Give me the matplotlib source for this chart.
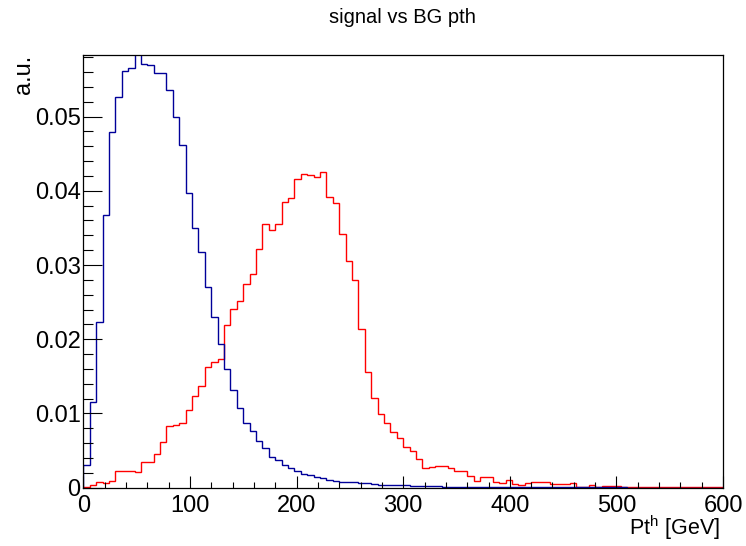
import numpy as np
import matplotlib
matplotlib.use("Agg")
import matplotlib.pyplot as plt
from matplotlib.ticker import MultipleLocator, FuncFormatter

plt.rcParams['font.family'] = ['Liberation Sans', 'DejaVu Sans']
plt.rcParams['mathtext.fontset'] = 'custom'
plt.rcParams['mathtext.rm'] = 'Liberation Sans'

# 100 bins, 0..600 GeV
bin_edges = np.linspace(0, 600, 101)

# background (blue)
bg_vals = [
    0.0031, 0.0115, 0.0223, 0.0367, 0.0479, 0.0526, 0.0562, 0.0566, 0.0585, 0.0571,
    0.0569, 0.0559, 0.0559, 0.0536, 0.0500, 0.0462, 0.0397, 0.0350, 0.0318, 0.0271,
    0.0230, 0.0193, 0.0160, 0.0132, 0.0108, 0.0087, 0.0076, 0.0063, 0.0053, 0.0042,
    0.0037, 0.0031, 0.0026, 0.0022, 0.0019, 0.0017, 0.0015, 0.0013, 0.0011, 0.0009,
    0.0008, 0.0008, 0.0007, 0.0006, 0.0006, 0.0005, 0.0004, 0.0004, 0.0003, 0.0003,
    0.0003, 0.0002, 0.0002, 0.0002, 0.0002, 0.0002, 0.0001, 0.0001, 0.0001, 0.0001,
    0.0001, 0.0001, 0.0001, 0.0001, 0.0001, 0.0001, 0.00005, 0.00005, 0.00005, 0.00005,
    0.00005, 0.00005, 0.00005, 0.00005, 0.00005, 0.00004, 0.00004, 0.00004, 0.00004, 0.00004,
    0.00003, 0.00003, 0.00003, 0.00003, 0.00003, 0.00002, 0.00002, 0.00002, 0.00002, 0.00002,
    0.00002, 0.00002, 0.00002, 0.00001, 0.00001, 0.00001, 0.00001, 0.00001, 0.00001, 0.00001,
]

# signal (red)
sig_vals = [
    0.0001, 0.0003, 0.0008, 0.0006, 0.0009, 0.0022, 0.0023, 0.0022, 0.0021, 0.0035,
    0.0034, 0.0046, 0.0062, 0.0083, 0.0084, 0.0087, 0.0105, 0.0124, 0.0137, 0.0163,
    0.0170, 0.0173, 0.0219, 0.0241, 0.0251, 0.0274, 0.0288, 0.0322, 0.0355, 0.0347,
    0.0355, 0.0385, 0.0390, 0.0416, 0.0422, 0.0421, 0.0418, 0.0426, 0.0392, 0.0383,
    0.0342, 0.0305, 0.0280, 0.0214, 0.0156, 0.0121, 0.0099, 0.0087, 0.0075, 0.0067,
    0.0055, 0.0049, 0.0039, 0.0027, 0.0028, 0.0029, 0.0029, 0.0026, 0.0023, 0.0022,
    0.0016, 0.0009, 0.0014, 0.0015, 0.0007, 0.0006, 0.0011, 0.0005, 0.0004, 0.0006,
    0.0008, 0.0007, 0.0007, 0.0005, 0.0005, 0.0005, 0.0006, 0.0001, 0.0001, 0.0004,
    0.0001, 0.0002, 0.0002, 0.0002, 0.0001, 0.0001, 0.0001, 0.0001, 0.0001, 0.0001,
    0.00005, 0.00005, 0.00005, 0.00005, 0.00005, 0.00005, 0.00005, 0.00005, 0.00005, 0.00005,
]

fig = plt.figure(figsize=(7.46, 5.46), dpi=100)
ax = fig.add_axes([0.1117, 0.1068, 0.8576, 0.7925])

ax.stairs(sig_vals, bin_edges, baseline=0, color='#ff0000', linewidth=1.0)
ax.stairs(bg_vals, bin_edges, baseline=0, color='#000099', linewidth=1.0)

ax.set_xlim(0, 600)
ax.set_ylim(0, 0.0583)

ax.xaxis.set_major_locator(MultipleLocator(100))
ax.xaxis.set_minor_locator(MultipleLocator(20))
ax.yaxis.set_major_locator(MultipleLocator(0.01))
ax.yaxis.set_minor_locator(MultipleLocator(0.002))
ax.yaxis.set_major_formatter(FuncFormatter(lambda v, p: '%g' % round(v, 4)))

ax.tick_params(axis='both', which='both', direction='in', top=False, right=False,
               labelsize=17, width=0.8, colors='black')
ax.tick_params(axis='x', which='major', length=9, pad=5)
ax.tick_params(axis='x', which='minor', length=4.5)
ax.tick_params(axis='y', which='major', length=14, pad=2)
ax.tick_params(axis='y', which='minor', length=7)

for s in ax.spines.values():
    s.set_linewidth(0.9)

ax.set_xlabel('Pt$^{\\mathrm{h}}$ [GeV]', fontsize=15.5, ha='right', x=0.995, labelpad=-2)
ax.set_ylabel('a.u.', fontsize=17, ha='right', y=1.0, labelpad=0)
fig.text(0.539, 0.968, 'signal vs BG pth', fontsize=14.5, ha='center', va='center')

fig.savefig('out.png', dpi=100)
plt.close()
